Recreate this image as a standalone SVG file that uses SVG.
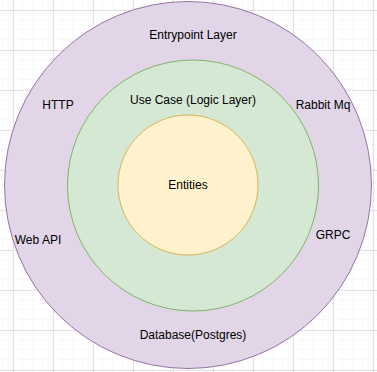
<svg xmlns="http://www.w3.org/2000/svg" width="377" height="372" viewBox="0 0 377 372">
  <defs>
    <pattern id="minor" x="3" y="0" width="10" height="10" patternUnits="userSpaceOnUse">
      <path d="M10 0V10M0 10H10" fill="none" stroke="#f3f3f3" stroke-width="1"/>
    </pattern>
    <pattern id="major" x="13" y="10" width="40" height="40" patternUnits="userSpaceOnUse">
      <path d="M0.5 0V40M0 0.5H40" fill="none" stroke="#e2e2e2" stroke-width="1"/>
    </pattern>
  </defs>
  <style>
    .lbl { font-family: "Liberation Sans", Arial, sans-serif; font-size: 12px; fill: #000; text-anchor: middle; }
  </style>
  <!-- page grid -->
  <rect width="377" height="372" fill="#ffffff"/>
  <rect width="377" height="372" fill="url(#minor)"/>
  <rect width="377" height="372" fill="url(#major)"/>

  <g id="entrypoint-layer">
    <circle cx="188" cy="185" r="183.5" fill="#e1d5e7" stroke="#9673a6" stroke-width="1"/>
    <text class="lbl" x="193" y="39">Entrypoint Layer</text>
    <text class="lbl" x="58" y="109">HTTP</text>
    <text class="lbl" x="323" y="109">Rabbit Mq</text>
    <text class="lbl" x="38" y="244">Web API</text>
    <text class="lbl" x="333" y="239">GRPC</text>
    <text class="lbl" x="193" y="339">Database(Postgres)</text>
  </g>

  <g id="use-case-layer">
    <circle cx="193" cy="185.5" r="125.5" fill="#d5e8d4" stroke="#82b366" stroke-width="1"/>
    <text class="lbl" x="193" y="104">Use Case (Logic Layer)</text>
  </g>

  <g id="entities">
    <circle cx="188" cy="185" r="70" fill="#fff2cc" stroke="#d6b656" stroke-width="1"/>
    <text class="lbl" x="188" y="189">Entities</text>
  </g>

  <g id="connectors"/>
</svg>
